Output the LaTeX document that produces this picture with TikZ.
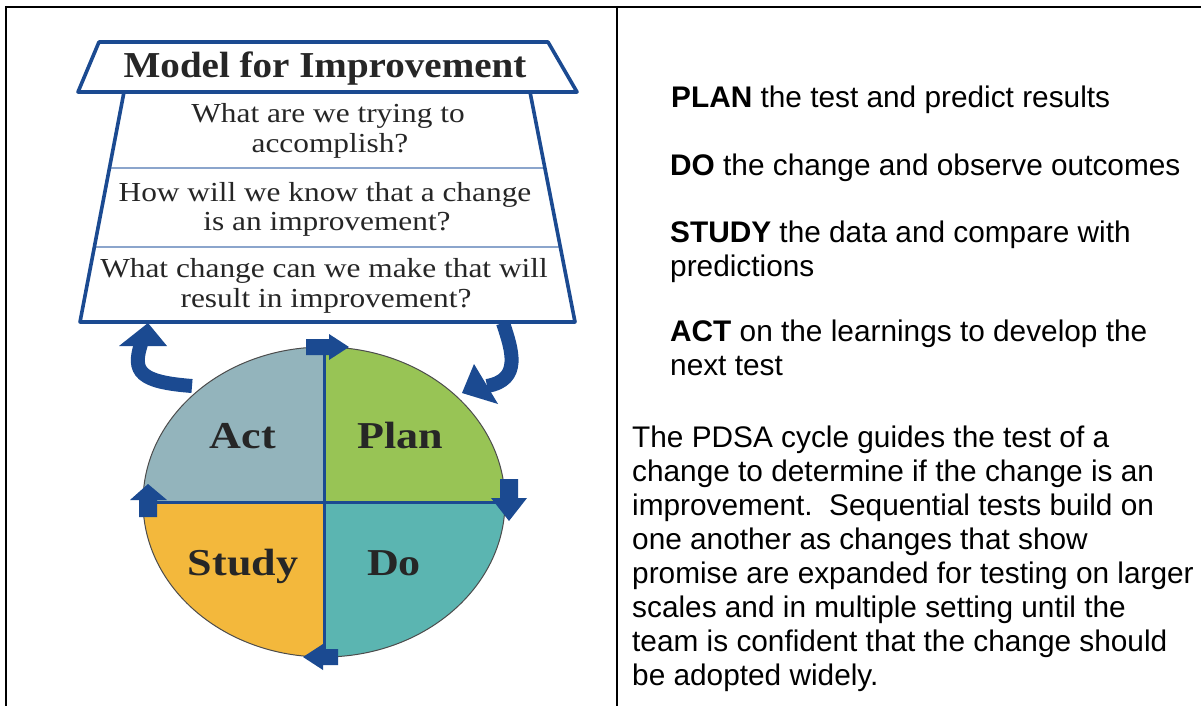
\documentclass[tikz,border=0pt]{standalone}
\usepackage{fontspec}
\setmainfont{Liberation Serif}
\newfontfamily\arialf{Liberation Sans}
\newfontfamily\titlef[FakeStretch=1.07]{Liberation Serif}
\newfontfamily\qf[FakeStretch=1.14]{Liberation Serif}
\newfontfamily\labf[FakeStretch=1.16]{Liberation Serif}
\usetikzlibrary{calc}
\definecolor{mblue}{HTML}{1B4A91}
\definecolor{lineblue}{HTML}{8BA5CC}
\definecolor{actc}{HTML}{93B4BC}
\definecolor{planc}{HTML}{98C455}
\definecolor{studyc}{HTML}{F3B83C}
\definecolor{doc}{HTML}{5BB5B1}
\definecolor{txt}{HTML}{262626}
\tikzset{
  frameline/.style={line width=2pt,black},
  trapline/.style={line width=3.6pt,mblue,line join=round},
  qline/.style={line width=2pt,lineblue},
  titletext/.style={inner sep=0pt,anchor=base,text=txt,font=\titlef\bfseries\fontsize{36.5}{40}\selectfont},
  qtext/.style={inner sep=0pt,anchor=base,text=txt,font=\qf\fontsize{27.5}{30}\selectfont},
  labtext/.style={inner sep=0pt,anchor=base,text=txt,font=\labf\bfseries\fontsize{38}{42}\selectfont},
  rtext/.style={inner sep=0pt,anchor=base west,text=black,font=\arialf\fontsize{29.8}{34}\selectfont},
  curvearrow/.style={line width=14pt,mblue},
  blockarrow/.style={fill=mblue},
}
\begin{document}
\begin{tikzpicture}[x=1pt,y=-1pt]
\useasboundingbox (0,0) rectangle (1201,706);
\fill[white] (0,0) rectangle (1201,706);
% frame
\draw[frameline] (5,7) -- (67,7);
\draw[line width=1.3pt] (67,7) -- (597,7);
\draw[frameline] (597,7) -- (1201,7);
\draw[frameline] (6,6) -- (6,706);
\draw[frameline] (617,6) -- (617,706);

% trapezoids
\coordinate (h1) at (99,42);
\coordinate (h2) at (548,42);
\coordinate (h3) at (577,92);
\coordinate (h4) at (78,92);
\coordinate (t1) at (124,92);
\coordinate (t2) at (530,92);
\coordinate (t3) at (575,322);
\coordinate (t4) at (80,322);
\fill[white] (h1) -- (h2) -- (h3) -- (h4) -- cycle;
\draw[qline] ($(t1)!0.330!(t4)$) -- ($(t2)!0.330!(t3)$);
\draw[qline] ($(t1)!0.674!(t4)$) -- ($(t2)!0.674!(t3)$);
\draw[trapline] (h1) -- (h2) -- (h3) -- (h4) -- cycle;
\draw[trapline] (t1) -- (t4) -- (t3) -- (t2);

\node[titletext] (title) at (325,78) {Model for Improvement};
\node[qtext] (q1a) at (328,122) {What are we trying to};
\node[qtext] (q1b) at (330,153) {accomplish?};
\node[qtext] (q2a) at (325,201) {How will we know that a change};
\node[qtext] (q2b) at (327,230) {is an improvement?};
\node[qtext] (q3a) at (324,277) {What change can we make that will};
\node[qtext] (q3b) at (326,307) {result in improvement?};

% circle
\coordinate (C) at (324,502);
\begin{scope}
\clip (C) ellipse [x radius=181, y radius=155];
\fill[actc] (140,340) rectangle (C);
\fill[planc] (510,340) rectangle (C);
\fill[studyc] (140,660) rectangle (C);
\fill[doc] (510,660) rectangle (C);
\end{scope}
\draw[line width=1pt,black!70] (C) ellipse [x radius=181, y radius=155];
\coordinate (ctop) at (324,347);
\coordinate (cbot) at (324,657);
\coordinate (cleft) at (143,502);
\coordinate (cright) at (505,502);
\draw[line width=3pt,mblue] (ctop) -- (cbot);
\draw[line width=3pt,mblue] (cleft) -- (cright);

\node[labtext] (act) at (243,448) {Act};
\node[labtext] (plan) at (400,448) {Plan};
\node[labtext] (study) at (243,575) {Study};
\node[labtext] (do) at (394,575) {Do};

% block arrows on circle
\fill[blockarrow] (306,339)--(329,339)--(329,334)--(349,347)--(329,360)--(329,355)--(306,355)--cycle;
\fill[blockarrow] (500,479)--(518,479)--(518,498)--(527,498)--(509,521)--(491,498)--(500,498)--cycle;
\fill[blockarrow] (338,649)--(323,649)--(323,644)--(303,657)--(323,670)--(323,665)--(338,665)--cycle;
\fill[blockarrow] (139,517)--(139,500)--(130,500)--(148,484)--(167,500)--(157,500)--(157,517)--cycle;

% curved arrows
\coordinate (la0) at (192,386);
\coordinate (la1) at (141,344);
\draw[curvearrow] (la0) .. controls (140,382) and (132,372) .. (la1);
\fill[blockarrow] (148,323) -- (119,346) -- (167,346) -- cycle;
\coordinate (ra0) at (503,323);
\coordinate (ra1) at (487,386);
\draw[curvearrow] (ra0) .. controls (512,350) and (522,380) .. (ra1);
\fill[blockarrow] (462,393) -- (474,364) -- (498,404) -- cycle;

% right text
\node[rtext] (plant) at (671,108) {\textbf{PLAN} the test and predict results};
\node[rtext] (dot) at (670,175) {\textbf{DO} the change and observe outcomes};
\node[rtext] (studyt) at (670,242) {\textbf{STUDY} the data and compare with};
\node[rtext] (studyt2) at (670,276) {predictions};
\node[rtext] (actt) at (670,341) {\textbf{ACT} on the learnings to develop the};
\node[rtext] (actt2) at (670,375) {next test};

\node[rtext] (p1) at (632,447) {The PDSA cycle guides the test of a};
\node[rtext] (p2) at (632,481) {change to determine if the change is an};
\node[rtext] (p3) at (632,515) {improvement.\ \ Sequential tests build on};
\node[rtext] (p4) at (632,549) {one another as changes that show};
\node[rtext] (p5) at (632,583) {promise are expanded for testing on larger};
\node[rtext] (p6) at (632,617) {scales and in multiple setting until the};
\node[rtext] (p7) at (632,651) {team is confident that the change should};
\node[rtext] (p8) at (632,685) {be adopted widely.};
\end{tikzpicture}
\end{document}
